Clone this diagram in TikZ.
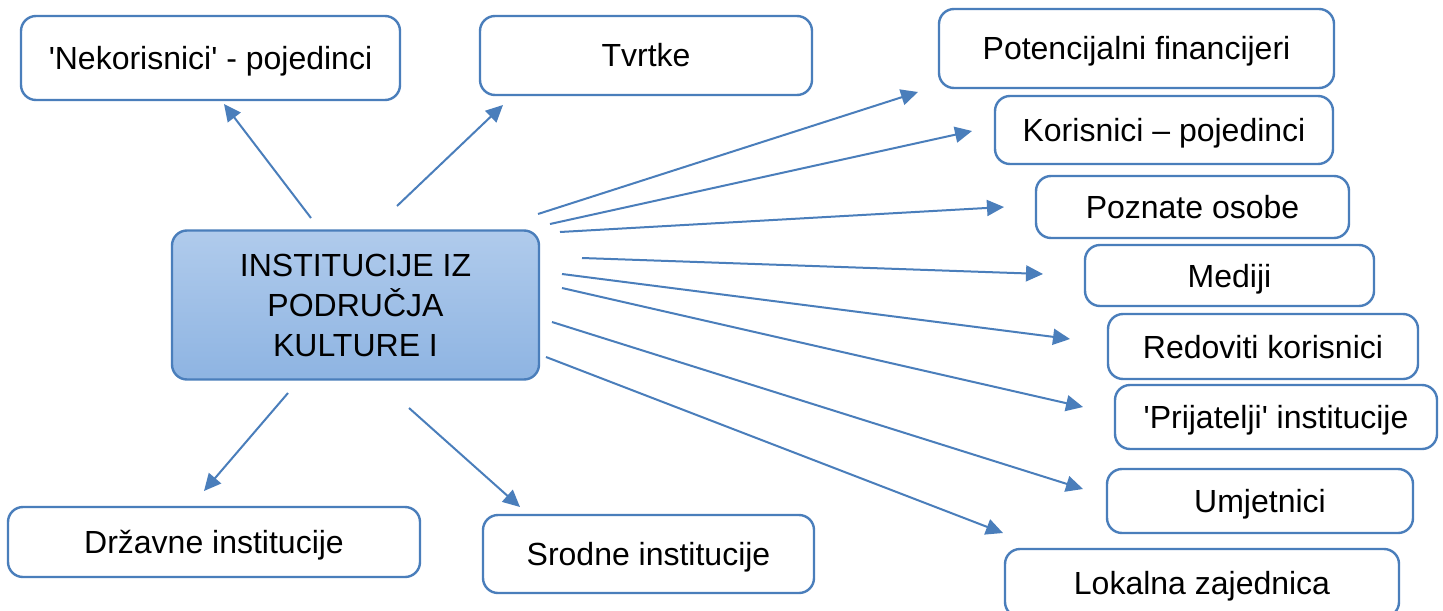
\documentclass[tikz,border=0pt]{standalone}
\usepackage{fontspec}
\setmainfont{Liberation Sans}
\usepackage{tikz}
\usetikzlibrary{arrows.meta}
\usetikzlibrary{positioning}
\definecolor{lineblue}{RGB}{74,126,187}
\definecolor{fillTop}{RGB}{176,203,236}
\definecolor{fillBot}{RGB}{142,180,226}
\tikzset{x=0.5pt, y=-0.5pt,
base/.style={ % Common look of all boxes
draw=lineblue,
line width=1.2pt,
rounded corners=7.5pt,
inner sep=0pt,
align=center,
font=\fontsize{16}{20}\selectfont},
box/.style={ % Sets the properties for each outer box
base,
fill=white,
text height=13pt,
text depth=1.5pt},
sz/.style 2 args={minimum width=#1*0.5pt, minimum height=#2*0.5pt},
centre/.style={ % The shaded box in the middle
base,
top color=fillTop,
bottom color=fillBot},
arr/.style={ % Sets the properties for each arrow
draw=lineblue,
line width=1pt,
-{Triangle[length=8.5pt,width=8pt]}}}

\begin{document}
\begin{tikzpicture}
\clip (0,0) rectangle (1443,610);
\fill[white] (0,0) rectangle (1443,610);
\node[centre, sz={367}{149}] (inst) at (355.5,305) {INSTITUCIJE IZ\\PODRUČJA\\KULTURE I};
\node[box, sz={379}{84}] (nek) at (210.5,58) {\textquotesingle Nekorisnici\textquotesingle\ - pojedinci};
\node[box, sz={332}{79}] (tvr) at (646,55.5) {Tvrtke};
\node[box, sz={395}{79}] (pot) at (1136.5,48.5) {Potencijalni financijeri};
\node[box, sz={338}{68}] (kor) at (1164,130) {Korisnici – pojedinci};
\node[box, sz={313}{62}] (poz) at (1192.5,207) {Poznate osobe};
\node[box, sz={289}{61}] (med) at (1229.5,275.5) {Mediji};
\node[box, sz={310}{65}] (red) at (1263,346.5) {Redoviti korisnici};
\node[box, sz={322}{64}] (pri) at (1276,417) {\textquotesingle Prijatelji\textquotesingle\ institucije};
\node[box, sz={306}{64}] (umj) at (1260,501) {Umjetnici};
\node[box, sz={394}{68}] (lok) at (1202,583) {Lokalna zajednica};
\node[box, sz={412}{70}] (drz) at (214,542) {Državne institucije};
\node[box, sz={331}{78}] (sro) at (648.5,554) {Srodne institucije};
% free ends of the arrows
\coordinate (s-nek) at (311,218); \coordinate (t-nek) at (224,104);
\coordinate (s-tvr) at (397,206); \coordinate (t-tvr) at (503,105);
\coordinate (s-pot) at (538,214); \coordinate (t-pot) at (918,92);
\coordinate (s-kor) at (550,224); \coordinate (t-kor) at (972,131);
\coordinate (s-poz) at (560,232); \coordinate (t-poz) at (1004,207);
\coordinate (s-med) at (582,258); \coordinate (t-med) at (1043,274);
\coordinate (s-red) at (562,274); \coordinate (t-red) at (1070,339);
\coordinate (s-pri) at (562,288); \coordinate (t-pri) at (1083,407);
\coordinate (s-umj) at (552,322); \coordinate (t-umj) at (1083,489);
\coordinate (s-lok) at (546,357); \coordinate (t-lok) at (1003,533);
\coordinate (s-drz) at (288,393); \coordinate (t-drz) at (204,491);
\coordinate (s-sro) at (409,408); \coordinate (t-sro) at (520,507);
\draw[arr] (s-nek) -- (t-nek);
\draw[arr] (s-tvr) -- (t-tvr);
\draw[arr] (s-pot) -- (t-pot);
\draw[arr] (s-kor) -- (t-kor);
\draw[arr] (s-poz) -- (t-poz);
\draw[arr] (s-med) -- (t-med);
\draw[arr] (s-red) -- (t-red);
\draw[arr] (s-pri) -- (t-pri);
\draw[arr] (s-umj) -- (t-umj);
\draw[arr] (s-lok) -- (t-lok);
\draw[arr] (s-drz) -- (t-drz);
\draw[arr] (s-sro) -- (t-sro);
\end{tikzpicture}
\end{document}
